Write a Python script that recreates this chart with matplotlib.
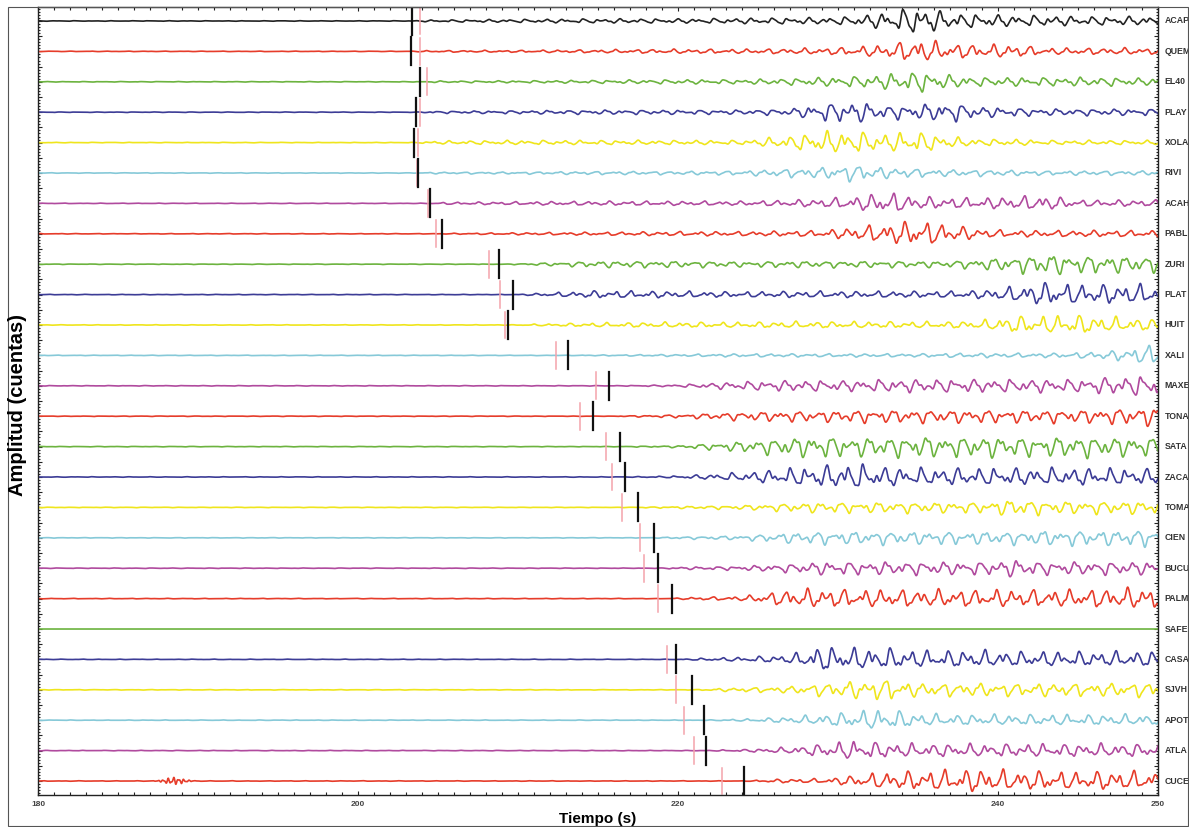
import numpy as np
import matplotlib
matplotlib.use("Agg")
import matplotlib.pyplot as plt
from matplotlib.ticker import MultipleLocator, FixedLocator
from matplotlib.patches import Rectangle

plt.rcParams['font.family'] = ['Liberation Sans', 'DejaVu Sans']

# estaciones, de arriba hacia abajo
stations = ["ACAP", "QUEM", "EL40", "PLAY", "XOLA", "RIVI", "ACAH", "PABL",
            "ZURI", "PLAT", "HUIT", "XALI", "MAXE", "TONA", "SATA", "ZACA",
            "TOMA", "CIEN", "BUCU", "PALM", "SAFE", "CASA", "SJVH", "APOT",
            "ATLA", "CUCE"]

# lecturas de fase (s): negro y rosa
pick_black = [203.4, 203.3, 203.9, 203.6, 203.5, 203.75, 204.5, 205.25,
              208.8, 209.7, 209.4, 213.1, 215.7, 214.7, 216.4, 216.7,
              217.5, 218.5, 218.75, 219.6, None, 219.9, 220.9, 221.6,
              221.75, 224.1]
pick_pink = [203.9, 203.9, 204.3, 203.9, 203.75, 203.7, 204.4, 204.9,
             208.2, 208.9, 209.2, 212.4, 214.9, 213.9, 215.5, 215.9,
             216.5, 217.6, 217.9, 218.75, None, 219.3, 219.9, 220.4,
             221.0, 222.75]

# envolvente de amplitud (unidades: 1/30 de separacion)
env_times = [200, 205, 210, 215, 220, 224, 227, 229, 231, 233, 235, 237,
             239, 241, 243, 245, 247, 250]
env_ACAP = [0.3, 1, 1.5, 2, 2, 2.5, 3, 3, 4, 8, 13, 7, 6, 5, 5, 4, 4, 4]
env_QUEM = [0.3, 0.8, 1, 1.5, 2, 2, 2.5, 3, 4, 6, 11, 7, 6, 6, 3, 3, 3, 3]
env_EL40 = [0.3, 0.8, 1, 1.5, 2, 2, 3, 4, 5, 7, 10, 6, 4, 4, 4, 4, 4, 3]
env_PLAY = [0.3, 1, 1.5, 2, 2, 2, 3, 8, 10, 6, 7, 9, 5, 4, 3, 3, 3, 3]
env_XOLA = [0.3, 1.5, 2, 2, 2, 2, 6, 10, 10, 8, 10, 5, 3, 3, 2, 2, 2, 2]
env_RIVI = [0.3, 0.8, 1, 1.5, 1.5, 2, 4, 5, 8, 5, 4, 3, 3, 2.5, 2, 2, 2, 2]
env_ACAH = [0.3, 1, 1.5, 2, 2, 2, 3, 4, 6, 10, 6, 5, 5, 6, 7, 3, 3, 3]
env_PABL = [0.3, 0.5, 1, 1.5, 2, 2, 2.5, 3, 6, 9, 12, 8, 4, 3, 3, 3, 3, 3]
env_ZURI = [0, 0, 0.5, 3, 3, 2.5, 3, 3, 3, 3, 3, 3, 5, 7, 10, 8, 8, 7]
env_PLAT = [0, 0, 0.5, 3.5, 3, 2.5, 3, 3, 3, 3, 3, 3, 4, 7, 11, 9, 9, 9]
env_HUIT = [0, 0, 0.5, 2, 2.5, 2.5, 3, 3, 3, 3, 3, 3, 4, 8, 8, 9, 7, 5]
env_XALI = [0, 0, 0, 0.5, 1, 1.5, 1.5, 1.5, 1.5, 1.5, 1.5, 2, 2, 2, 2, 2.5, 4, 10]
env_MAXE = [0, 0, 0, 0, 1, 4, 5, 5, 5, 6, 6, 6, 6, 6, 6, 6, 8, 10]
env_TONA = [0, 0, 0, 0, 1.5, 4, 5, 5, 6, 6, 6, 6, 6, 6, 6, 6, 7, 9]
env_SATA = [0, 0, 0, 0, 1, 5, 9, 10, 9, 9, 10, 9, 10, 9, 9, 10, 9, 9]
env_ZACA = [0, 0, 0, 0, 1, 4, 8, 10, 12, 9, 8, 8, 8, 8, 8, 8, 8, 7]
env_TOMA = [0, 0, 0, 0, 1, 2, 4, 5, 5, 5, 5, 5, 5, 8, 6, 6, 6, 6]
env_CIEN = [0, 0, 0, 0, 1, 2, 5, 6, 6, 6, 6, 6, 6, 6, 7, 7, 7, 8]
env_BUCU = [0, 0, 0, 0, 1, 2, 4, 6, 6, 6, 6, 6, 6, 8, 6, 6, 6, 6]
env_PALM = [0, 0, 0, 0, 1, 2, 8, 9, 8, 8, 8, 8, 8, 8, 8, 8, 9, 10]
env_SAFE = [0] * 18
env_CASA = [0, 0, 0, 0, 0.5, 2, 4, 12, 10, 10, 8, 8, 8, 7, 7, 7, 7, 7]
env_SJVH = [0, 0, 0, 0, 0, 2, 3, 6, 8, 10, 6, 6, 6, 6, 6, 6, 6, 7]
env_APOT = [0, 0, 0, 0, 0, 1, 3, 5, 8, 10, 6, 5, 5, 5, 5, 5, 5, 5]
env_ATLA = [0, 0, 0, 0, 0, 1, 3, 6, 9, 7, 6, 6, 6, 6, 6, 6, 6, 6]
env_CUCE = [0, 0, 0, 0, 0, 0.5, 2, 2, 5, 8, 9, 10, 11, 9, 9, 8, 9, 8]
envelopes = [env_ACAP, env_QUEM, env_EL40, env_PLAY, env_XOLA, env_RIVI,
             env_ACAH, env_PABL, env_ZURI, env_PLAT, env_HUIT, env_XALI,
             env_MAXE, env_TONA, env_SATA, env_ZACA, env_TOMA, env_CIEN,
             env_BUCU, env_PALM, env_SAFE, env_CASA, env_SJVH, env_APOT,
             env_ATLA, env_CUCE]

# ruido previo en CUCE (inicio, fin, amplitud)
cuce_burst = [187.0, 190.0, 2.5]

colors = ['#222222'] + ['#e63c2a', '#6cb33f', '#3c3c96', '#efe51c',
                        '#86c9d8', '#b04a9e'] * 5

fig = plt.figure(figsize=(11.89, 8.27), dpi=100)
ax = fig.add_axes([38 / 1189, 1 - 795 / 827, 1120 / 1189, 788 / 827])

t = np.arange(180, 250.01, 0.02)
scale = 1 / 30.4
for i, name in enumerate(stations):
    y0 = -i
    env = np.interp(t, env_times, envelopes[i])
    if pick_black[i] is not None:
        ramp = np.clip((t - pick_black[i]) / 1.0, 0, 1)
        env = env * ramp + 0.25 * (1 - ramp)
    else:
        env = np.zeros_like(t)
    k = i + 1
    w = (0.55 * np.sin(2 * np.pi * 0.85 * t + 1.7 * k)
         + 0.40 * np.sin(2 * np.pi * 1.35 * t + 0.9 * k * k)
         + 0.25 * np.sin(2 * np.pi * 2.2 * t + 2.3 * k)
         + 0.12 * np.sin(2 * np.pi * 3.3 * t + 0.5 * k))
    y = y0 + env * w * scale
    if name == "CUCE":
        b0, b1, ba = cuce_burst
        burst = ba * np.exp(-((t - (b0 + b1) / 2) / ((b1 - b0) / 4)) ** 2)
        y = y + burst * (np.sin(2 * np.pi * 3.1 * t) + 0.5 * np.sin(2 * np.pi * 5.3 * t + 1)) * scale
    ax.plot(t, y, color=colors[i], lw=1.2)

    if pick_pink[i] is not None:
        ax.plot([pick_pink[i]] * 2, [y0 - 0.44, y0 + 0.44], color='#f4a3ab', lw=1.1)
    if pick_black[i] is not None:
        ax.plot([pick_black[i]] * 2, [y0 - 0.46, y0 + 0.46], color='#111111', lw=1.6)

    ax.text(1.006, y0, name, transform=ax.get_yaxis_transform(), fontsize=6.3,
            fontweight='bold', color='#333333', va='center', ha='left')

ax.set_xlim(180, 250)
ax.set_ylim(-25.46, 0.46)
ax.xaxis.set_major_locator(FixedLocator([180, 200, 220, 240, 250]))
ax.xaxis.set_minor_locator(MultipleLocator(1))
ax.yaxis.set_major_locator(MultipleLocator(0.5))
ax.yaxis.set_minor_locator(MultipleLocator(0.1))
ax.set_yticklabels([])
ax.tick_params(axis='both', which='both', direction='in', top=True, right=True,
               width=0.8, color='#222222')
ax.tick_params(axis='x', which='major', length=3, labelsize=6, pad=4,
               labelcolor='#444444')
ax.tick_params(axis='x', which='minor', length=2.5)
ax.tick_params(axis='y', which='major', length=3)
ax.tick_params(axis='y', which='minor', length=1.5)
for lab in ax.get_xticklabels():
    lab.set_fontweight('bold')
for sp in ax.spines.values():
    sp.set_linewidth(1.0)
    sp.set_color('#222222')

ax.set_xlabel("Tiempo (s)", fontsize=11, fontweight='bold', labelpad=3)
fig.text(18 / 1189, 1 - 405 / 827, "Amplitud (cuentas)", rotation=90,
         fontsize=14.5, fontweight='bold', ha='center', va='center')

fig.patches.append(Rectangle((8 / 1189, 0.001), 1180 / 1189, 1 - 7 / 827 - 0.001,
                             transform=fig.transFigure, fill=False,
                             edgecolor='#555555', lw=0.8))

fig.savefig("out.png", dpi=100)
